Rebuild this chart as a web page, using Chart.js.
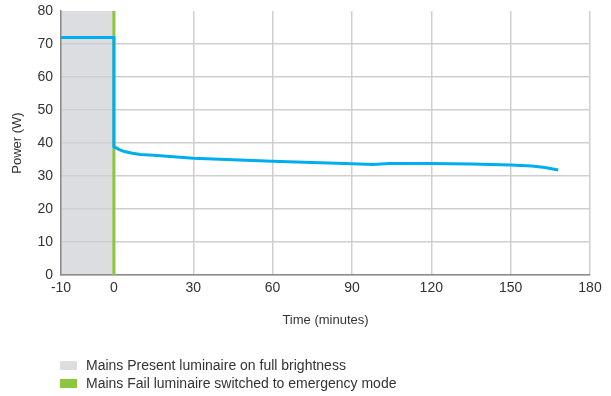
<!DOCTYPE html>
<html>
<head>
<meta charset="utf-8">
<script src="https://cdn.jsdelivr.net/npm/chart.js@4/dist/chart.umd.min.js"></script>
<style>
  body { margin: 0; background: #fff; }
  canvas { display: block; }
</style>
</head>
<body>
<canvas id="grafico" width="611" height="396"></canvas>
<script>
// datos
var timeMin = [-10, 0, 0, 2, 4, 7, 10, 15, 20, 30, 45, 60, 75, 90, 98, 104, 120, 135, 150, 158, 163, 168];
var powerW  = [72, 72, 38.9, 38.0, 37.4, 36.9, 36.5, 36.3, 36.0, 35.4, 34.9, 34.5, 34.1, 33.7, 33.5, 33.8, 33.8, 33.6, 33.3, 33.0, 32.6, 31.8];
var xTickLabels = [-10, 0, 30, 60, 90, 120, 150, 180];
var yMax = 80;
var mainsPresent = [-10, 0]; // zona gris
var mainsFail = 0;           // linea verde
var legendLabels = ['Mains Present luminaire on full brightness', 'Mains Fail luminaire switched to emergency mode'];
var legendColors = ['#dcdde0', '#8cc63f'];

// el tramo -10..0 esta dibujado mas ancho que la escala real
function axisPos(t) {
    return t < 0 ? t * 2 : t;
}

var textColor = '#333333';
var fontFam = '"Liberation Sans", Arial, Helvetica, sans-serif';

// zona gris detras de la grilla
var shadePlugin = {
    id: 'shade',
    beforeDraw: function (chart) {
        var x = chart.scales.x, y = chart.scales.y, ctx = chart.ctx;
        var x0 = x.getPixelForValue(axisPos(mainsPresent[0]));
        var x1 = x.getPixelForValue(axisPos(mainsPresent[1]));
        ctx.save();
        ctx.fillStyle = legendColors[0];
        ctx.fillRect(x0, y.getPixelForValue(yMax), x1 - x0, y.getPixelForValue(0) - y.getPixelForValue(yMax));
        ctx.restore();
    }
};

// leyenda abajo a la izquierda
var legendPlugin = {
    id: 'leyenda',
    afterDraw: function (chart) {
        var ctx = chart.ctx;
        ctx.save();
        ctx.font = '14px ' + fontFam;
        ctx.textBaseline = 'middle';
        for (var i = 0; i < legendLabels.length; i++) {
            var top = 361 + i * 18;
            ctx.fillStyle = legendColors[i];
            ctx.fillRect(60, top, 17, 9);
            ctx.fillStyle = textColor;
            ctx.fillText(legendLabels[i], 86, top + 5);
        }
        ctx.restore();
    }
};

var puntos = timeMin.map(function (t, i) { return { x: axisPos(t), y: powerW[i] }; });

new Chart(document.getElementById('grafico').getContext('2d'), {
    type: 'line',
    data: {
        datasets: [{
            label: 'Power',
            data: puntos,
            borderColor: '#00aeef',
            borderWidth: 3,
            tension: 0,
            pointRadius: 0,
            fill: false,
            order: 1
        }, {
            label: 'Mains fail',
            data: [{ x: axisPos(mainsFail), y: 0 }, { x: axisPos(mainsFail), y: yMax }],
            borderColor: legendColors[1],
            borderWidth: 3,
            pointRadius: 0,
            fill: false,
            order: 2
        }]
    },
    options: {
        responsive: false,
        animation: false,
        layout: { padding: { top: 11, right: 21, left: 0, bottom: 0 } },
        scales: {
            x: {
                type: 'linear',
                min: axisPos(xTickLabels[0]),
                max: xTickLabels[xTickLabels.length - 1],
                afterBuildTicks: function (scale) {
                    scale.ticks = xTickLabels.map(function (v) { return { value: axisPos(v) }; });
                },
                afterFit: function (scale) { scale.height = 121; },
                ticks: {
                    autoSkip: false,
                    maxRotation: 0,
                    padding: 5,
                    color: textColor,
                    font: { family: fontFam, size: 14 },
                    callback: function (value, index) { return String(xTickLabels[index]); }
                },
                grid: {
                    color: '#cfcfcf',
                    lineWidth: 1.5,
                    drawTicks: false
                },
                border: { color: '#8a8a8a', width: 1.5 },
                title: {
                    display: true,
                    text: 'Time (minutes)',
                    color: textColor,
                    font: { family: fontFam, size: 13 },
                    padding: { top: 0, bottom: 68 }
                }
            },
            y: {
                min: 0,
                max: yMax,
                afterFit: function (scale) {
                    scale.width = 61;
                    scale.paddingTop = 0;
                    scale.paddingBottom = 0;
                },
                ticks: {
                    stepSize: 10,
                    padding: 8,
                    color: textColor,
                    font: { family: fontFam, size: 14 }
                },
                grid: {
                    color: function (c) { return c.tick && c.tick.value === yMax ? 'rgba(0,0,0,0)' : '#cfcfcf'; },
                    lineWidth: 1.5,
                    drawTicks: false
                },
                border: { color: '#8a8a8a', width: 1.5 },
                title: {
                    display: true,
                    text: 'Power (W)',
                    color: textColor,
                    font: { family: fontFam, size: 13 },
                    padding: { top: 10, bottom: 0 }
                }
            }
        },
        plugins: {
            legend: { display: false },
            tooltip: { enabled: false }
        }
    },
    plugins: [shadePlugin, legendPlugin]
});
</script>
</body>
</html>
